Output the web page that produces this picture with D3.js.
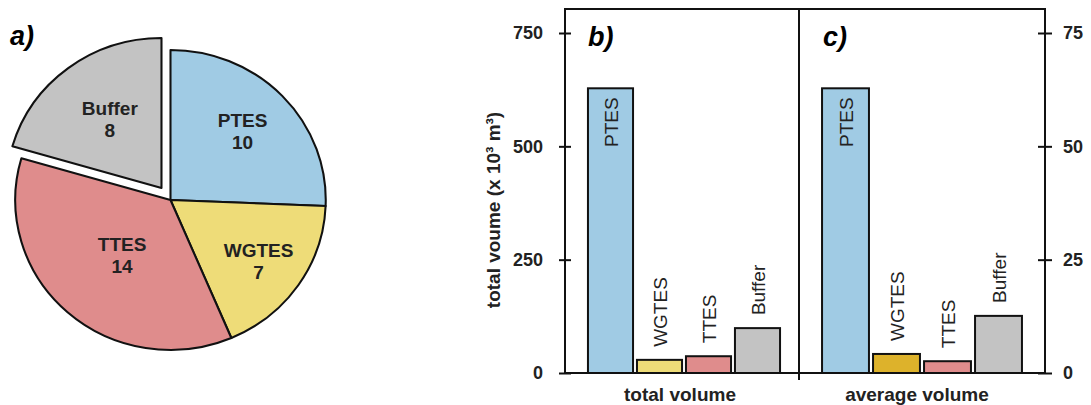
<!DOCTYPE html>
<html>
<head>
<meta charset="utf-8">
<script src="https://cdn.jsdelivr.net/npm/d3@7"></script>
<style>
  body { margin: 0; background: #fff; }
  svg { display: block; font-family: "Liberation Sans", Arial, sans-serif; }
</style>
</head>
<body>
<svg id="chart" width="1091" height="405"></svg>
<script>
// pie: number of storages per type
const pieNames = ['PTES', 'WGTES', 'TTES', 'Buffer'];
const pieCounts = [10, 7, 14, 8];
const pieColors = ['#a0cbe4', '#eedc78', '#df8c8c', '#c3c3c3'];

// bars: volume per type
const barNames = ['PTES', 'WGTES', 'TTES', 'Buffer'];
const totalVolume = [628, 29, 37, 99];      // x 10^3 m3
const averageVolume = [62.8, 4.2, 2.6, 12.6];
const totalColors = ['#a0cbe4', '#eedc78', '#df8c8c', '#c3c3c3'];
const averageColors = ['#a0cbe4', '#ddb22b', '#df8c8c', '#c3c3c3'];

const leftTicks = [0, 250, 500, 750];
const rightTicks = [0, 25, 50, 75];

const svg = d3.select('#chart');

// ---------- a) pie ----------
const cx = 170.5, cy = 200, r = 150;
const pieData = pieNames.map((n, i) => ({name: n, count: pieCounts[i], color: pieColors[i]}));
const arcs = d3.pie().sort(null).value(d => d.count)(pieData);
const arc = d3.arc().innerRadius(0).outerRadius(r);
const explode = {Buffer: 15};
const labelR = {PTES: 100, WGTES: 107, TTES: 73, Buffer: 86};

const pieG = svg.append('g').attr('transform', `translate(${cx},${cy})`);

pieG.selectAll('path')
    .data(arcs)
    .join('path')
    .attr('d', arc)
    .attr('fill', d => d.data.color)
    .attr('stroke', '#111')
    .attr('stroke-width', 2)
    .attr('stroke-linejoin', 'round')
    .attr('transform', d => {
        const a = (d.startAngle + d.endAngle) / 2;
        const off = explode[d.data.name] || 0;
        return `translate(${Math.sin(a) * off},${-Math.cos(a) * off}) scale(1.035,1)`;
    });

const lbl = pieG.selectAll('g.lbl')
    .data(arcs)
    .join('g')
    .attr('class', 'lbl')
    .attr('transform', d => {
        const a = (d.startAngle + d.endAngle) / 2;
        const rr = labelR[d.data.name] + (explode[d.data.name] || 0);
        return `translate(${Math.sin(a) * rr},${-Math.cos(a) * rr})`;
    });
lbl.append('text')
    .attr('y', -4)
    .attr('text-anchor', 'middle')
    .style('font-size', '19px').style('font-weight', 'bold').style('fill', '#222')
    .text(d => d.data.name);
lbl.append('text')
    .attr('y', 18)
    .attr('text-anchor', 'middle')
    .style('font-size', '19px').style('font-weight', 'bold').style('fill', '#222')
    .text(d => d.data.count);

svg.append('text')
    .attr('x', 10).attr('y', 45)
    .text('a)')
    .style('font-size', '27px').style('font-weight', 'bold').style('font-style', 'italic');

// ---------- b) and c) bars ----------
const frameTop = 9, base = 373;
const leftX = 565, midX = 799, rightX = 1045;

const yLeft = d3.scaleLinear().domain([0, 750]).range([base, 33]);
const yRight = d3.scaleLinear().domain([0, 75]).range([base, 33]);

const xB = d3.scaleBand().domain(barNames).range([586, 782]).paddingInner(0.08).paddingOuter(0.04);
const xC = d3.scaleBand().domain(barNames).range([820, 1024]).paddingInner(0.08).paddingOuter(0.04);

// frame
svg.append('rect')
    .attr('x', leftX).attr('y', frameTop)
    .attr('width', rightX - leftX).attr('height', base - frameTop)
    .attr('fill', 'none').attr('stroke', '#111').attr('stroke-width', 2);
svg.append('line')
    .attr('x1', midX).attr('x2', midX).attr('y1', frameTop).attr('y2', base + 7)
    .attr('stroke', '#111').attr('stroke-width', 2);

function drawBars(values, colors, x, y) {
    const data = barNames.map((n, i) => ({name: n, v: values[i], color: colors[i]}));
    const g = svg.append('g');
    g.selectAll('rect')
        .data(data)
        .join('rect')
        .attr('x', d => x(d.name))
        .attr('y', d => y(d.v))
        .attr('width', x.bandwidth())
        .attr('height', d => base - y(d.v))
        .attr('fill', d => d.color)
        .attr('stroke', '#111')
        .attr('stroke-width', 2);
    g.selectAll('text')
        .data(data)
        .join('text')
        .attr('transform', (d, i) => {
            const xc = x(d.name) + x.bandwidth() / 2 + 7;
            const yy = i === 0 ? y(d.v) + 9 : y(d.v) - 13;
            return `translate(${xc},${yy}) rotate(-90)`;
        })
        .attr('text-anchor', (d, i) => i === 0 ? 'end' : 'start')
        .style('font-size', '19px')
        .style('fill', '#222')
        .text(d => d.name);
}
drawBars(totalVolume, totalColors, xB, yLeft);
drawBars(averageVolume, averageColors, xC, yRight);

// axes with crossing ticks
const axL = svg.append('g')
    .attr('transform', `translate(${leftX},0)`)
    .call(d3.axisLeft(yLeft).tickValues(leftTicks).tickSize(6).tickPadding(16));
axL.select('.domain').remove();
axL.selectAll('.tick line').attr('x1', 6).attr('stroke', '#111').attr('stroke-width', 2);
axL.selectAll('text').style('font-size', '18px').style('font-weight', 'bold')
    .style('font-family', '"Liberation Sans", Arial, sans-serif').style('fill', '#222');

const axR = svg.append('g')
    .attr('transform', `translate(${rightX},0)`)
    .call(d3.axisRight(yRight).tickValues(rightTicks).tickSize(7).tickPadding(11));
axR.select('.domain').remove();
axR.selectAll('.tick line').attr('x1', -7).attr('stroke', '#111').attr('stroke-width', 2);
axR.selectAll('text').style('font-size', '18px').style('font-weight', 'bold')
    .style('font-family', '"Liberation Sans", Arial, sans-serif').style('fill', '#222');

// titles
svg.append('text')
    .attr('transform', `translate(500,210) rotate(-90)`)
    .attr('text-anchor', 'middle')
    .style('font-size', '19px').style('font-weight', 'bold').style('fill', '#222')
    .text('total voume (x 10³ m³)');

svg.append('text')
    .attr('x', (leftX + midX) / 2 - 2).attr('y', 401)
    .attr('text-anchor', 'middle')
    .style('font-size', '19px').style('font-weight', 'bold').style('fill', '#222')
    .text('total volume');
svg.append('text')
    .attr('x', (midX + rightX) / 2 - 5).attr('y', 401)
    .attr('text-anchor', 'middle')
    .style('font-size', '19px').style('font-weight', 'bold').style('fill', '#222')
    .text('average volume');

svg.append('text')
    .attr('x', 588).attr('y', 46)
    .text('b)')
    .style('font-size', '27px').style('font-weight', 'bold').style('font-style', 'italic');
svg.append('text')
    .attr('x', 823).attr('y', 46)
    .text('c)')
    .style('font-size', '27px').style('font-weight', 'bold').style('font-style', 'italic');
</script>
</body>
</html>
